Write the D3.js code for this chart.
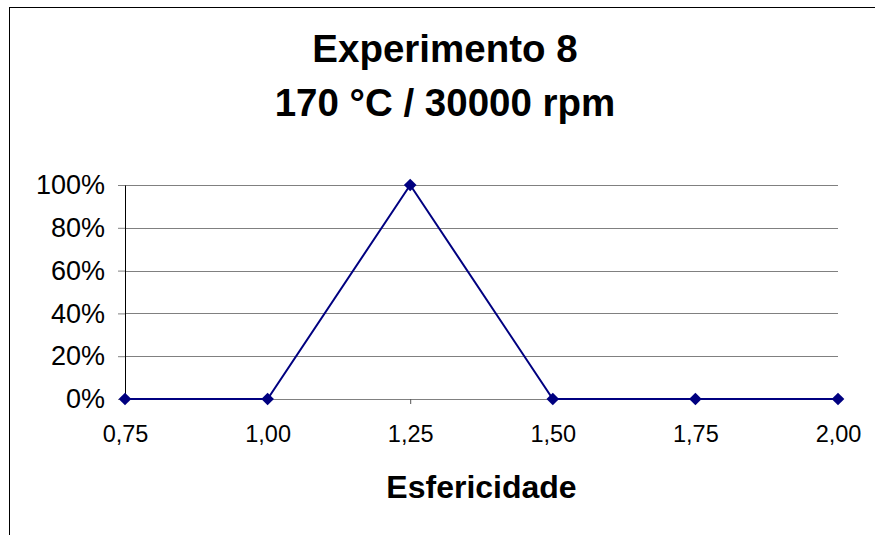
<!DOCTYPE html>
<html>
<head>
<meta charset="utf-8">
<script src="https://cdn.jsdelivr.net/npm/d3@7"></script>
<style>
  body { margin: 0; background: #fff; }
  text { font-family: Arial, "Liberation Sans", sans-serif; fill: #000; }
</style>
</head>
<body>
<div id="chart"></div>
<script>
// data
var esfericidade = [0.75, 1.00, 1.25, 1.50, 1.75, 2.00];
var frequencia = [0, 0, 1, 0, 0, 0];
var yTicks = [0, 0.2, 0.4, 0.6, 0.8, 1.0];
var titleLines = ["Experimento 8", "170 °C / 30000 rpm"];
var xTitle = "Esfericidade";

var svgWidth = 875;
var svgHeight = 535;

var margin = { top: 185, right: 37, bottom: 136, left: 125 };
var width = svgWidth - margin.left - margin.right;
var height = svgHeight - margin.top - margin.bottom;

var svg = d3.select("#chart")
  .append("svg")
  .attr("width", svgWidth)
  .attr("height", svgHeight);

// outer frame (right / bottom edges fall outside the picture)
svg.append("rect")
  .attr("x", 9.5)
  .attr("y", 7.5)
  .attr("width", 900)
  .attr("height", 600)
  .attr("fill", "none")
  .attr("stroke", "#000")
  .attr("stroke-width", 1);

// title
svg.append("text")
  .attr("x", 445)
  .attr("text-anchor", "middle")
  .attr("font-size", "38.5px")
  .attr("font-weight", "bold")
  .selectAll("tspan")
  .data(titleLines)
  .enter()
  .append("tspan")
  .attr("x", 445)
  .attr("y", (d, i) => 62 + i * 54)
  .text(d => d);

var chartGroup = svg.append("g")
  .attr("transform", `translate(${margin.left}, ${margin.top})`);

var xScale = d3.scaleLinear()
  .domain([0.75, 2.00])
  .range([0, width]);

var yScale = d3.scaleLinear()
  .domain([0, 1])
  .range([height, 0]);

// gridlines
chartGroup.selectAll(".grid")
  .data(yTicks)
  .enter()
  .append("line")
  .attr("x1", 0)
  .attr("x2", width)
  .attr("y1", d => Math.round(yScale(d)) + 0.5)
  .attr("y2", d => Math.round(yScale(d)) + 0.5)
  .attr("stroke", "#808080")
  .attr("stroke-width", 1);

// x axis
var bottomAxis = d3.axisBottom(xScale)
  .tickValues(esfericidade)
  .tickSizeInner(5)
  .tickSizeOuter(0)
  .tickPadding(21)
  .tickFormat(d => d3.format(".2f")(d).replace(".", ","));

var xAxis = chartGroup.append("g")
  .attr("transform", `translate(0, ${height})`)
  .call(bottomAxis);
xAxis.select(".domain").attr("stroke", "#808080");
xAxis.selectAll(".tick line").attr("stroke", "#555");
xAxis.selectAll("text")
  .attr("font-size", "23.5px")
  .attr("font-family", "Arial, 'Liberation Sans', sans-serif");

// y axis
var leftAxis = d3.axisLeft(yScale)
  .tickValues(yTicks)
  .tickSizeInner(7)
  .tickSizeOuter(0)
  .tickPadding(13)
  .tickFormat(d3.format(".0%"));

var yAxis = chartGroup.append("g")
  .call(leftAxis);
yAxis.select(".domain").attr("stroke", "#000");
yAxis.selectAll(".tick line").attr("stroke", "#808080");
yAxis.selectAll("text")
  .attr("font-size", "27px")
  .attr("font-family", "Arial, 'Liberation Sans', sans-serif");

// series line
var line = d3.line()
  .x((d, i) => xScale(esfericidade[i]))
  .y(d => yScale(d));

chartGroup.append("path")
  .datum(frequencia)
  .attr("d", line)
  .attr("fill", "none")
  .attr("stroke", "#000080")
  .attr("stroke-width", 2);

// diamond markers
chartGroup.selectAll(".marker")
  .data(frequencia)
  .enter()
  .append("path")
  .attr("d", d3.symbol().type(d3.symbolSquare).size(80))
  .attr("transform", (d, i) => `translate(${xScale(esfericidade[i])}, ${yScale(d)}) rotate(45)`)
  .attr("fill", "#000080");

// x axis title
svg.append("text")
  .attr("x", margin.left + width / 2)
  .attr("y", 498)
  .attr("text-anchor", "middle")
  .attr("font-size", "32px")
  .attr("font-weight", "bold")
  .text(xTitle);
</script>
</body>
</html>
